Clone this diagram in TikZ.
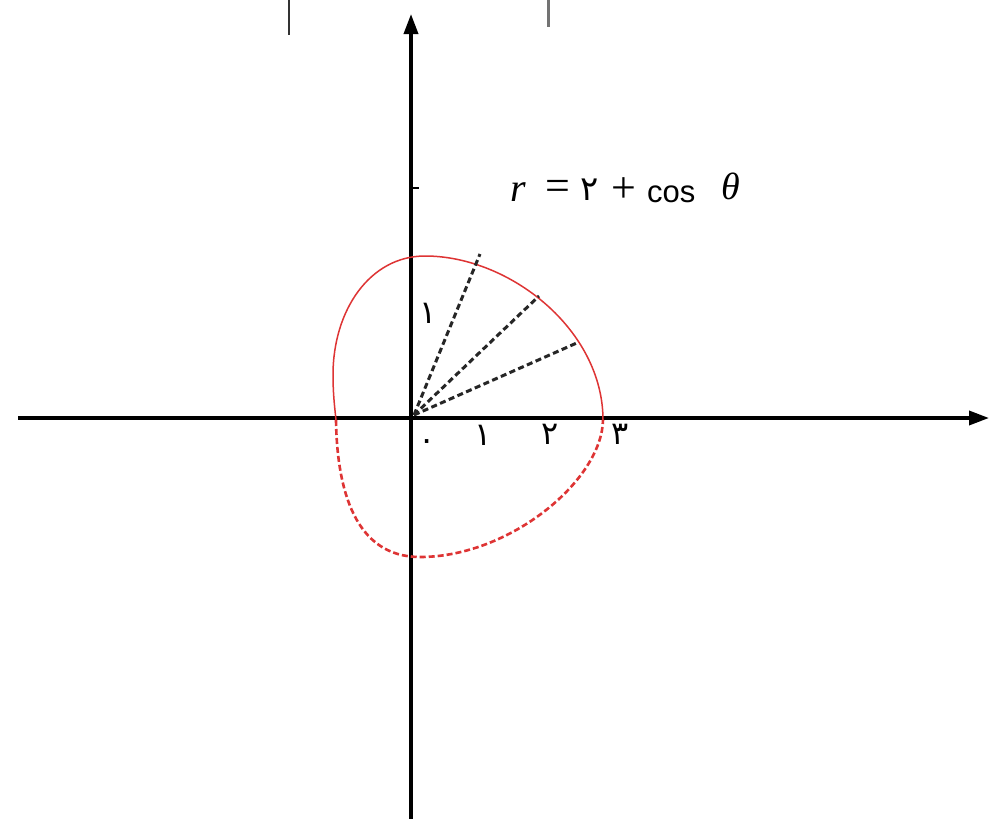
\documentclass[tikz,border=0pt]{standalone}
\usepackage{fontspec}
\newfontfamily\fa[Script=Arabic]{DejaVu Sans}
\newfontfamily\lsans{Liberation Sans}
\newfontfamily\lserif{Liberation Serif}
\usetikzlibrary{arrows.meta}
\definecolor{curvered}{RGB}{222,52,52}
\begin{document}
\begin{tikzpicture}[x=1pt,y=-1pt,
  axis/.style={line width=3.6pt,-{Triangle[length=20pt,width=14pt]}},
  curveup/.style={curvered,line width=1.5pt},
  curvedown/.style={curvered,line width=2.6pt,dash pattern=on 6pt off 3pt},
  ray/.style={black!85,line width=3pt,dash pattern=on 6pt off 3.5pt},
  digit/.style={font=\fa\fontsize{32}{32}\selectfont,inner sep=0pt,anchor=base},
  frm/.style={font=\lserif\fontsize{44}{44}\selectfont,inner sep=0pt,anchor=base west}]
\useasboundingbox (0,0) rectangle (989,819);
\fill[white] (0,0) rectangle (989,819);
% axes
\coordinate (O) at (411,418);
\coordinate (xl) at (18,418);
\coordinate (xr) at (989,418);
\coordinate (yb) at (411,819);
\coordinate (yt) at (411,14);
\draw[axis] (xl) -- (xr);
\draw[axis] (yb) -- (yt);
% tick on y axis
\coordinate (t1) at (411,188);
\coordinate (t2) at (419,188);
\draw[line width=2pt] (t1) -- (t2);
% stray marks at top
\coordinate (s1a) at (289,0); \coordinate (s1b) at (289,35);
\coordinate (s2a) at (548,0); \coordinate (s2b) at (548,27);
\draw[black!80,line width=2pt] (s1a) -- (s1b);
\draw[black!55,line width=3pt] (s2a) -- (s2b);
% curve r = 2 + cos(theta)
\draw[curveup] (603,420) .. controls (603,330) and (510,256) .. (425,256)
  .. controls (370,256) and (333,310) .. (333,375)
  .. controls (333,395) and (335,410) .. (336,420);
\draw[curvedown] (336,420) .. controls (337,490) and (355,557) .. (420,557)
  .. controls (510,557) and (602,480) .. (603,420);
% rays
\coordinate (ro) at (414,415);
\coordinate (r1) at (480,254);
\coordinate (r2) at (539,296);
\coordinate (r3) at (579,342);
\draw[ray] (ro) -- (r1);
\draw[ray] (ro) -- (r2);
\draw[ray] (ro) -- (r3);
% labels
\node[digit] (l0) at (427,450) {۰};
\node[digit] (l1) at (483,445) {۱};
\node[digit] (l2) at (550,444) {۲};
\node[digit] (l3) at (620,444) {۳};
\node[digit] (ly1) at (428,323) {۱};
\node[frm,font=\lserif\itshape\fontsize{40}{40}\selectfont] (f1) at (510,201) {r};
\node[frm] (f2) at (545,200) {=};
\node[frm,font=\fa\fontsize{34}{34}\selectfont] (f3) at (580,200) {۲};
\node[frm] (f4) at (611,202) {+};
\node[frm,font=\lsans\fontsize{31}{31}\selectfont] (f5) at (647,202) {cos};
\node[frm,font=\lserif\itshape\fontsize{38}{38}\selectfont] (f6) at (721,199) {θ};
\end{tikzpicture}
\end{document}
